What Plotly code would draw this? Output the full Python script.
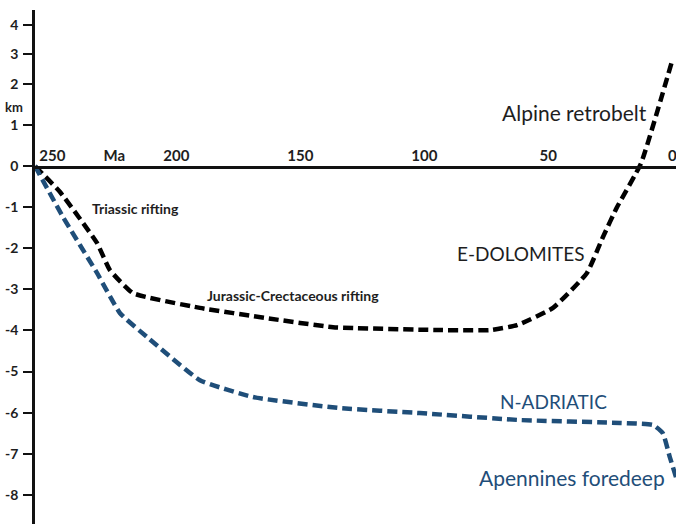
import numpy as np
import plotly.graph_objects as go

# Subsidence / uplift histories (age in Ma, elevation in km)
dolomites_age = [257, 246.9, 232, 226.8, 217.5, 190.5, 163.5, 136.8, 93.7, 73.5, 62.6, 48.1, 34.4, 28, 22.3, 12.6, 0]
dolomites_km = [0, -0.63, -1.87, -2.53, -3.09, -3.45, -3.70, -3.92, -3.99, -3.99, -3.87, -3.45, -2.60, -1.73, -1.0, 0.07, 2.8]

adriatic_age = [257, 245.7, 232, 222.7, 211.8, 190.5, 169.1, 134, 101.8, 61.4, 21.1, 7.8, 3.8, 1.0, -1.5]
adriatic_km = [0, -1.24, -2.60, -3.58, -4.16, -5.21, -5.62, -5.89, -6.01, -6.18, -6.25, -6.30, -6.50, -7.08, -7.57]

# Vertical axis: labels in km, the scale is compressed above 2 km
y_tick_km = [-8, -7, -6, -5, -4, -3, -2, -1, 0, 1, 2, 3, 4]
y_tick_pos = [-8, -7, -6, -5, -4, -3, -2, -1, 0, 1, 2, 2.72, 3.43]
y_tick_text = ["-8", "-7", "-6", "-5", "-4", "-3", "-2", "-1", "0", "1", "2", "3", "4"]

# Time axis labels
x_tick_vals = [250, 225, 200, 150, 100, 50, 0]
x_tick_text = ["250", "Ma", "200", "150", "100", "50", "0"]

Y_RANGE = [-8.71, 3.80]
X_RANGE = [257, -1.5]


def to_axis(values):
    return np.interp(values, y_tick_km, y_tick_pos)


BLUE = "#1f4e79"
TEXT = "#1e1e1e"
FONT = "Lato"
DASH = "10px,5px"

fig = go.Figure()
fig.add_trace(go.Scatter(
    x=dolomites_age, y=to_axis(dolomites_km), mode="lines",
    line=dict(color="#000000", width=4.5, dash=DASH, shape="spline", smoothing=0.4),
    hoverinfo="skip", showlegend=False,
))
fig.add_trace(go.Scatter(
    x=adriatic_age, y=to_axis(adriatic_km), mode="lines",
    line=dict(color=BLUE, width=4.5, dash=DASH, shape="spline", smoothing=0.4),
    hoverinfo="skip", showlegend=False,
))
# Empty trace that carries the time axis drawn along the 0 km line
fig.add_trace(go.Scatter(
    x=[], y=[], xaxis="x2", yaxis="y2", mode="lines",
    hoverinfo="skip", showlegend=False,
))

labels = [
    ("Triassic rifting", 234.8, -1.02, 14, TEXT, "bold"),
    ("Jurassic-Crectaceous rifting", 188.5, -3.14, 14, TEXT, "bold"),
    ("E-DOLOMITES", 87.6, -2.12, 19, TEXT, "normal"),
    ("Alpine retrobelt", 69.5, 1.31, 21, TEXT, "normal"),
    ("N-ADRIATIC", 70.3, -5.74, 19, BLUE, "normal"),
    ("Apennines foredeep", 78.8, -7.59, 21, BLUE, "normal"),
]
for text, x, y, size, color, weight in labels:
    fig.add_annotation(
        text=text, x=x, y=y, xref="x", yref="y", xanchor="left", yanchor="middle",
        showarrow=False, font=dict(family=FONT, size=size, color=color, weight=weight),
    )

fig.add_annotation(
    text="km", x=-0.033, y=1.44, xref="paper", yref="y", xanchor="center", yanchor="middle",
    showarrow=False, font=dict(family=FONT, size=13, color=TEXT, weight="bold"),
)

zero_frac = (0 - Y_RANGE[0]) / (Y_RANGE[1] - Y_RANGE[0])

fig.update_layout(
    width=676, height=524,
    margin=dict(l=35, r=0, t=10, b=0),
    paper_bgcolor="white", plot_bgcolor="rgba(0,0,0,0)",
    showlegend=False,
    xaxis=dict(range=X_RANGE, visible=False, showgrid=False, zeroline=False),
    xaxis2=dict(
        range=X_RANGE, anchor="y2", matches="x",
        showline=True, linecolor="#111111", linewidth=2.5,
        showgrid=False, zeroline=False,
        tickmode="array", tickvals=x_tick_vals, ticktext=x_tick_text,
        ticks="", ticklabelposition="inside", ticklabelstandoff=2,
        ticklabeloverflow="allow",
        tickfont=dict(family=FONT, size=15, color=TEXT, weight="bold"),
        automargin=False,
    ),
    yaxis=dict(
        range=Y_RANGE, anchor="x",
        showline=True, linecolor="#111111", linewidth=2.5,
        showgrid=False, zeroline=False,
        tickmode="array", tickvals=y_tick_pos, ticktext=y_tick_text,
        ticks="outside", ticklen=9, tickwidth=2, tickcolor="#111111",
        ticklabelstandoff=2,
        tickfont=dict(family=FONT, size=14, color=TEXT, weight="bold"),
        automargin=False,
    ),
    yaxis2=dict(
        domain=[zero_frac, 1], range=[0, 1], anchor="x2",
        showline=False, showticklabels=False, ticks="",
        showgrid=False, zeroline=False, fixedrange=True,
    ),
)

fig.write_html("out.html")
